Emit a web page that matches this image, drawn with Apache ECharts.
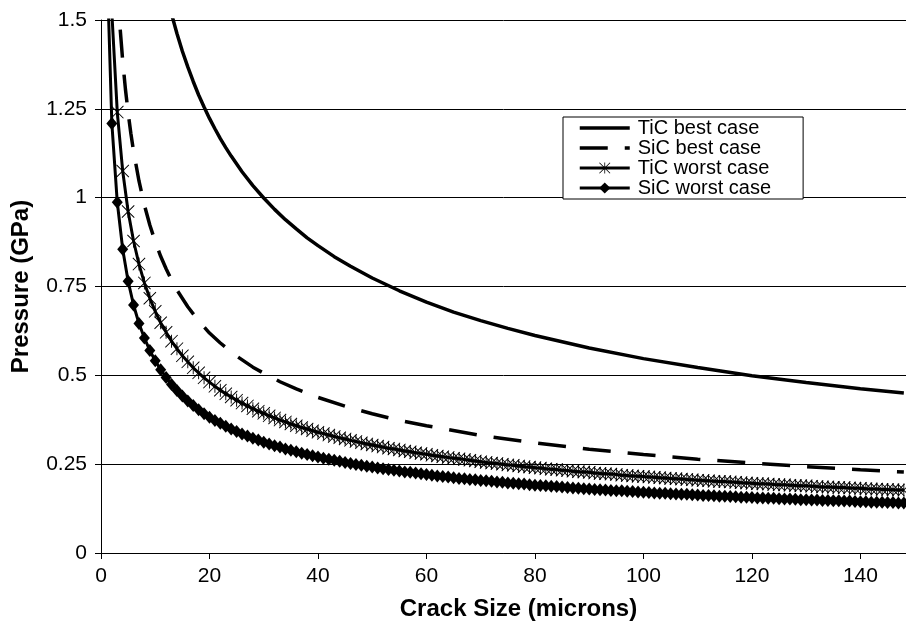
<!DOCTYPE html>
<html>
<head>
<meta charset="utf-8">
<script src="https://cdn.jsdelivr.net/npm/echarts@6/dist/echarts.min.js"></script>
<style>
  html, body { margin: 0; padding: 0; background: #fff; }
  #chart { width: 906px; height: 626px; }
</style>
</head>
<body>
<div id="chart"></div>
<script>
// crack size (microns) for the two marked series, one point per micron
var crackX = [
  1,2,3,4,5,6,7,8,9,10,11,12,13,14,15,16,17,18,19,20,
  21,22,23,24,25,26,27,28,29,30,31,32,33,34,35,36,37,38,39,40,
  41,42,43,44,45,46,47,48,49,50,51,52,53,54,55,56,57,58,59,60,
  61,62,63,64,65,66,67,68,69,70,71,72,73,74,75,76,77,78,79,80,
  81,82,83,84,85,86,87,88,89,90,91,92,93,94,95,96,97,98,99,100,
  101,102,103,104,105,106,107,108,109,110,111,112,113,114,115,116,117,118,119,120,
  121,122,123,124,125,126,127,128,129,130,131,132,133,134,135,136,137,138,139,140,
  141,142,143,144,145,146,147,148
];
var ticWorst = [
  2.15,1.520,1.241,1.075,0.961,0.878,0.813,0.760,0.717,0.680,
  0.648,0.621,0.596,0.575,0.555,0.538,0.521,0.507,0.493,0.481,
  0.469,0.458,0.448,0.439,0.430,0.422,0.414,0.406,0.399,0.393,
  0.386,0.380,0.374,0.369,0.363,0.358,0.353,0.349,0.344,0.340,
  0.336,0.332,0.328,0.324,0.321,0.317,0.314,0.310,0.307,0.304,
  0.301,0.298,0.295,0.293,0.290,0.287,0.285,0.282,0.280,0.278,
  0.275,0.273,0.271,0.269,0.267,0.265,0.263,0.261,0.259,0.257,
  0.255,0.253,0.252,0.250,0.248,0.247,0.245,0.243,0.242,0.240,
  0.239,0.237,0.236,0.235,0.233,0.232,0.230,0.229,0.228,0.227,
  0.225,0.224,0.223,0.222,0.221,0.219,0.218,0.217,0.216,0.215,
  0.214,0.213,0.212,0.211,0.210,0.209,0.208,0.207,0.206,0.205,
  0.204,0.203,0.202,0.201,0.201,0.200,0.199,0.198,0.197,0.196,
  0.195,0.195,0.194,0.193,0.192,0.192,0.191,0.190,0.189,0.189,
  0.188,0.187,0.186,0.186,0.185,0.184,0.184,0.183,0.182,0.182,
  0.181,0.180,0.180,0.179,0.179,0.178,0.177,0.177
];
var sicWorst = [
  1.71,1.209,0.987,0.855,0.765,0.698,0.646,0.605,0.570,0.541,
  0.516,0.494,0.474,0.457,0.442,0.428,0.415,0.403,0.392,0.382,
  0.373,0.365,0.357,0.349,0.342,0.335,0.329,0.323,0.318,0.312,
  0.307,0.302,0.298,0.293,0.289,0.285,0.281,0.277,0.274,0.270,
  0.267,0.264,0.261,0.258,0.255,0.252,0.249,0.247,0.244,0.242,
  0.239,0.237,0.235,0.233,0.231,0.228,0.227,0.225,0.223,0.221,
  0.219,0.217,0.215,0.214,0.212,0.210,0.209,0.207,0.206,0.204,
  0.203,0.202,0.200,0.199,0.197,0.196,0.195,0.194,0.192,0.191,
  0.190,0.189,0.188,0.187,0.186,0.184,0.183,0.182,0.181,0.180,
  0.179,0.178,0.177,0.176,0.175,0.175,0.174,0.173,0.172,0.171,
  0.170,0.169,0.168,0.168,0.167,0.166,0.165,0.165,0.164,0.163,
  0.162,0.162,0.161,0.160,0.160,0.159,0.158,0.157,0.157,0.156,
  0.155,0.155,0.154,0.154,0.153,0.152,0.152,0.151,0.150,0.150,
  0.149,0.149,0.148,0.148,0.147,0.147,0.146,0.146,0.145,0.144,
  0.144,0.143,0.143,0.143,0.142,0.142,0.141,0.141
];
// best case curves (no markers)
var ticBestX = [12,13,14,15,16,17,18,19,20,21,22,23,24,26,28,30,32,34,36,38,40,43,46,50,55,60,65,70,75,80,90,100,110,120,130,140,148];
var ticBest = [1.579,1.517,1.462,1.412,1.368,1.327,1.289,1.255,1.223,1.194,1.166,1.141,1.117,1.073,1.034,0.999,0.967,0.938,0.912,0.887,0.865,0.834,0.807,0.774,0.738,0.706,0.678,0.654,0.632,0.612,0.577,0.547,0.522,0.499,0.480,0.462,0.450];
var sicBestX = [3,3.5,4,4.5,5,5.5,6,7,8,9,10,11,12,13,14,16,18,20,22,25,28,30,33,36,40,45,50,55,60,70,80,90,100,110,120,130,140,148];
var sicBest = [1.599,1.481,1.385,1.306,1.239,1.181,1.131,1.047,0.979,0.923,0.876,0.835,0.800,0.768,0.740,0.693,0.653,0.619,0.591,0.554,0.523,0.506,0.482,0.462,0.438,0.413,0.392,0.373,0.358,0.331,0.310,0.292,0.277,0.264,0.253,0.243,0.234,0.228];

var seriesNames = ["TiC best case", "SiC best case", "TiC worst case", "SiC worst case"];

function pairs(xs, ys) {
  return xs.map(function (x, i) { return [x, ys[i]]; });
}

var FONT = "Liberation Sans";
var asterisk = "path://M9.3,0L10.7,0L10.7,20L9.3,20Z M1,0L20,19L19,20L0,1Z M19,0L20,1L1,20L0,19Z";

var myChart = echarts.init(document.getElementById("chart"));
var option = {
  animation: false,
  backgroundColor: "#fff",
  grid: { left: 101, right: 0, top: 20, bottom: 70 },
  legend: {
    orient: "vertical",
    left: 563,
    top: 117,
    padding: [1, 32, 1, 15],
    itemWidth: 50,
    itemHeight: 14,
    itemGap: 0,
    backgroundColor: "#fff",
    borderColor: "#000",
    borderWidth: 1,
    textStyle: { fontFamily: FONT, fontSize: 20, color: "#000", lineHeight: 20, padding: [0, 0, 0, 3] },
    data: [
      { name: seriesNames[0], itemStyle: { opacity: 0 }, lineStyle: { width: 3.5 } },
      { name: seriesNames[1], itemStyle: { opacity: 0 }, lineStyle: { width: 3.5 } },
      { name: seriesNames[2], lineStyle: { width: 3 } },
      { name: seriesNames[3], lineStyle: { width: 3 } }
    ]
  },
  xAxis: {
    type: "value",
    min: 0,
    max: 148.4,
    interval: 20,
    name: "Crack Size (microns)",
    nameLocation: "middle",
    nameGap: 44,
    nameTextStyle: { fontFamily: FONT, fontSize: 24, fontWeight: "bold", color: "#000", padding: [0, 0, 0, 30] },
    axisLine: { show: true, lineStyle: { color: "#000", width: 1 } },
    axisTick: { show: true, length: 6, lineStyle: { color: "#000" } },
    axisLabel: { fontFamily: FONT, fontSize: 21, color: "#000", margin: 13, showMaxLabel: false },
    splitLine: { show: false }
  },
  yAxis: {
    type: "value",
    min: 0,
    max: 1.5,
    interval: 0.25,
    name: "Pressure (GPa)",
    nameLocation: "middle",
    nameGap: 68,
    nameTextStyle: { fontFamily: FONT, fontSize: 24, fontWeight: "bold", color: "#000" },
    axisLine: { show: true, lineStyle: { color: "#000", width: 1 } },
    axisTick: { show: true, length: 6, lineStyle: { color: "#000" } },
    axisLabel: { fontFamily: FONT, fontSize: 21, color: "#000", margin: 14 },
    splitLine: { show: true, lineStyle: { color: "#000", width: 1 } }
  },
  series: [
    {
      name: seriesNames[0],
      type: "line",
      data: pairs(ticBestX, ticBest),
      showSymbol: false,
      symbol: "none",
      itemStyle: { color: "#000" },
      lineStyle: { color: "#000", width: 3.5 }
    },
    {
      name: seriesNames[1],
      type: "line",
      data: pairs(sicBestX, sicBest),
      showSymbol: false,
      symbol: "none",
      itemStyle: { color: "#000" },
      lineStyle: { color: "#000", width: 3.5, type: [28, 17] }
    },
    {
      name: seriesNames[2],
      type: "line",
      data: pairs(crackX, ticWorst),
      symbol: asterisk,
      symbolSize: 13,
      showAllSymbol: true,
      itemStyle: { color: "#000" },
      lineStyle: { color: "#000", width: 3 }
    },
    {
      name: seriesNames[3],
      type: "line",
      data: pairs(crackX, sicWorst),
      symbol: "diamond",
      symbolSize: [11, 13],
      showAllSymbol: true,
      itemStyle: { color: "#000" },
      lineStyle: { color: "#000", width: 3 }
    }
  ]
};
myChart.setOption(option);
</script>
</body>
</html>
